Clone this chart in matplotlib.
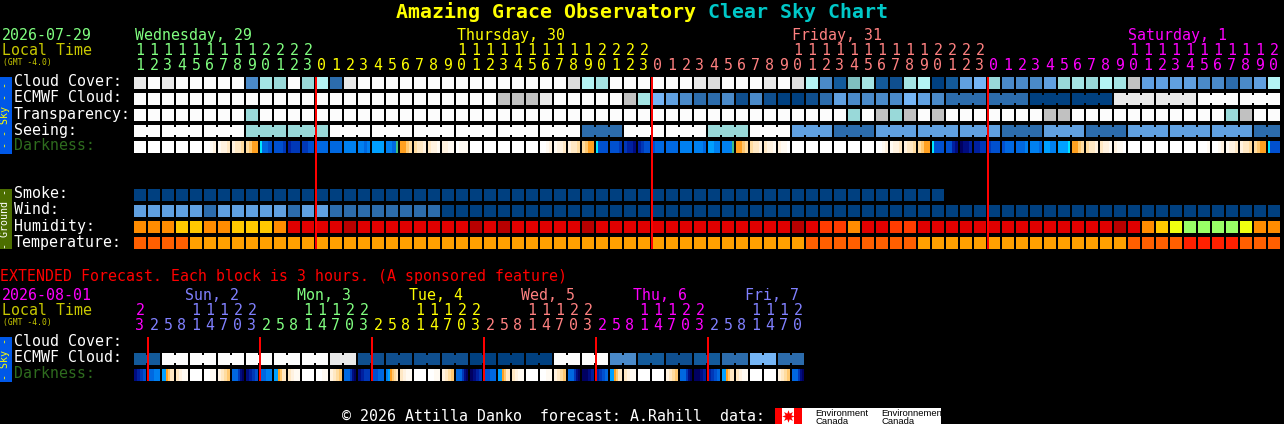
import matplotlib
matplotlib.use("Agg")
import matplotlib.pyplot as plt
from matplotlib.patches import Rectangle

# colour codes used in the cell strings
palette = {
    "W": "#fcfcfc", "E": "#e9e9e9", "D": "#dddddd", "G": "#c1c1c1",
    "s": "#b4f4f4", "r": "#a4e4e4", "q": "#99d9d9", "p": "#7fbfbf",
    "6": "#75b5f5", "5": "#60a0e0", "4": "#4a8ac9", "3": "#2c6cac",
    "2": "#135a9a", "1": "#0f4f8f", "0": "#004080",
    "H": "#ff8c00", "Y": "#ffc800", "R": "#e00000", "B": "#b80000",
    "X": "#ff3c00", "L": "#f0ff10", "N": "#99ff66",
    "T": "#ff5f00", "A": "#ffa000", "Z": "#ff2000",
}
dark_palette = {
    "o": "#ffffff", "a": "#fffaf2", "b": "#fff2e0", "c": "#ffe8c4", "d": "#ffdca0",
    "e": "#ffc870", "f": "#ffa020", "g": "#00e8ff", "h": "#00a0ff", "i": "#0080f0",
    "j": "#0068e0", "k": "#0050d0", "l": "#0038b8", "m": "#0020a0", "n": "#000c80",
    "u": "#000060", "v": "#000040", "t": "#40c080",
}

# main forecast, one code per hour
cloud_cover = ("EWEWWWWW4r" "qWqs3EWWWW" "WWWWWWWWWW" "WDsrWWWWWW" "EDWWWEWDs4"
               "2pr21rs025" "6q4445qrqs" "rG55554434" "5s")
ecmwf_cloud = ("WWWWWWWWWW" "WWWWWWWWWW" "WWWWWWGGGE" "WWWWWGr654" "3341410013"
               "5444465433" "3333000000" "EEEEEEWWWW" "WW")
transparency = ("WWWWWWWWqW" "WWWWWWWWWW" "WWWWWWWWWW" "WWWWWWWWWW" "WWWWWWWWWW"
                "WqWGqGWGWW" "WWWWWGGWWW" "WWWWWWWWqG" "WW")
seeing = ("WWWWWWWWqq" "qqqqWWWWWW" "WWWWWWWWWW" "WW333WWWWW" "WqqqWWW555"
          "3335555555" "5533355533" "3555555555" "33")
smoke = "0" * 58
wind = "55555" + "3" + "55555" + "3" + "55" + "3" * 8 + "0" * 60
humidity = ("HHHYYHHYYY" "HRRRRBRRRR" "RRRRBRBRRR" "RRBRRRRRRR" "RRRRRRRBRX"
            "XHRRXXRRRR" "RRRRRRRRRR" "BRHYLNNNNL" "HH")
temperature = "TTTT" + "A" * 44 + "T" * 8 + "A" * 15 + "TTTT" + "ZZZZ" + "TTT"

darkness = [
    "o", "o", "o", "o", "o", "ooab", "abbc", "bccd", "deff", "gjjjkk",
    "kkkl", "mlll", "llkk", "jjjj", "jjjj", "iiii", "iiji", "hhhh", "iiijjt", "ffed",
    "dccb", "cbba", "bbaa", "oaaa", "o", "o", "o", "o", "o", "ooab",
    "abbc", "bccd", "deff", "gkkkkk", "kkkl", "lmmn", "mlkk", "kjjj", "jjjj", "iiii",
    "iiij", "hhii", "iiiiit", "ffed", "dccb", "cbba", "baao", "o", "o", "o",
    "o", "o", "o", "ooab", "abbc", "bccd", "deff", "gkkkkk", "kkmn", "unnm",
    "mmll", "lkkk", "kjjj", "jjji", "iiij", "hhii", "hhhhhg", "ffed", "dccb", "cbba",
    "baao", "o", "o", "o", "o", "o", "oooa", "ooab", "abbc", "bccd",
    "deff", "gkkkkk",
]

# extended forecast, one code per 3 hour block
ext_ecmwf = ("22" + "W" * 12 + "EE" + "1" * 8 + "0" * 6 + "W" * 4
             + "44" "22" "11" "22" "33" "66" "33")
ext_darkness = [
    "nmlk", "jjii", "hhfecc", "cbaa", "o", "ooaa", "bcde", "jjjlnu",
    "nmlk", "jjii", "hhfecc", "cbaa", "o", "ooaa", "bcde", "jjjlnu",
    "nmll", "kkjj", "ihfedc", "cbaa", "o", "ooaa", "bcde", "jjjlnu",
    "unml", "kkjj", "hhfecc", "cbaa", "o", "ooaa", "bcde", "jjjlnu",
    "uunm", "mlkj", "hhfecc", "cbaa", "o", "o", "bcde", "jjjlnu",
    "uunm", "mlkj", "hhfecc", "cbaa", "o", "o", "bcde", "jjjlnu",
]

# how cells are grouped into joined blocks
seeing_blocks = [2] + [3] * 26 + [2]
ecmwf_blocks = [1] * 58 + [3] * 8
ext_blocks = [2] * 24

hours = (list(range(11, 24)) + list(range(0, 24)) + list(range(0, 24)) + list(range(0, 21)))
ext_hours = [23] + [2, 5, 8, 11, 14, 17, 20, 23] * 5 + [2, 5, 8, 11, 14, 17, 20]

day_labels = ["Wednesday, 29", "Thursday, 30", "Friday, 31", "Saturday, 1"]
day_first_col = [0, 13, 37, 61]
day_label_x = [135, 457, 792, 1128]
day_colors = ["#80ff80", "#ffff00", "#ff8080", "#ff00ff"]

ext_day_labels = ["", "Sun, 2", "Mon, 3", "Tue, 4", "Wed, 5", "Thu, 6", "Fri, 7"]
ext_first_col = [0, 1, 9, 17, 25, 33, 41]
ext_label_x = [0, 185, 297, 409, 521, 633, 745]
ext_colors = ["#ff00ff", "#8080ff", "#80ff80", "#ffff00", "#ff8080", "#ff00ff", "#8080ff"]

midnights = [13, 37, 61]
ext_midnights = [1, 9, 17, 25, 33, 41]

MONO = "DejaVu Sans Mono"
CELL = 12
STEP = 14
X0 = 134

fig = plt.figure(figsize=(12.84, 4.24), dpi=100, facecolor="black")
ax = fig.add_axes([0, 0, 1, 1])
ax.set_xlim(0, 1284)
ax.set_ylim(424, 0)
ax.axis("off")


def rect(x, y, w, h, color, z=2):
    ax.add_patch(Rectangle((x, y), w, h, facecolor=color, edgecolor="none", linewidth=0, snap=False, zorder=z))


def label(x, y, s, color="white", size=10.75, **kw):
    ax.text(x, y, s, color=color, fontsize=size, family=MONO, va="baseline", **kw)


def draw_row(codes, y, blocks=None):
    for i, c in enumerate(codes):
        rect(X0 + STEP * i, y, CELL, CELL, palette[c])
    if blocks is None:
        return
    # small neck between the cells of one block
    col = 0
    for b in blocks:
        for k in range(b - 1):
            rect(X0 + STEP * (col + k) + CELL, y + 2, STEP - CELL, CELL - 4, palette[codes[col + k]])
        col += b


def draw_dark(cells, y):
    for i, bands in enumerate(cells):
        w = CELL / len(bands)
        for k, c in enumerate(bands):
            rect(X0 + STEP * i + k * w, y, w, CELL, dark_palette[c])


def draw_hours(hrs, first_cols, colors, y_tens, y_units):
    for i, h in enumerate(hrs):
        day = [d for d, f in enumerate(first_cols) if f <= i][-1]
        xc = X0 + STEP * i + 6
        if h >= 10:
            label(xc, y_tens, str(h)[0], colors[day], ha="center")
        label(xc, y_units, str(h)[-1], colors[day], ha="center")


# title
label(396, 18, "Amazing Grace Observatory", "#ffff00", 14.35, fontweight="bold")
label(708, 18, "Clear Sky Chart", "#00c8c8", 14.35, fontweight="bold")

# main header
label(2, 40, "2026-07-29", "#80ff80")
label(2, 55, "Local Time", "#c8c800")
label(3, 65, "(GMT -4.0)", "#c8c800", 5.8)
for s, x, c in zip(day_labels, day_label_x, day_colors):
    label(x, 40, s, c)
draw_hours(hours, day_first_col, day_colors, 55, 70)

# side bars
rect(0, 77, 12, 77, "#0058e8")
ax.text(5.5, 115, "- - Sky - -", color="#ffff00", fontsize=7.2, family=MONO, rotation=90, ha="center", va="center")
rect(0, 189, 12, 60, "#4c6e00")
ax.text(5.5, 219, "- Ground -", color="white", fontsize=7.2, family=MONO, rotation=90, ha="center", va="center")
rect(0, 337, 12, 45, "#0058e8")
ax.text(5.5, 359, "- Sky -", color="#ffff00", fontsize=7.2, family=MONO, rotation=90, ha="center", va="center")

# main rows
for s, y, c in [("Cloud Cover:", 77, "white"), ("ECMWF Cloud:", 93, "white"), ("Transparency:", 109, "white"),
                ("Seeing:", 125, "white"), ("Darkness:", 141, "#2e6b1e"), ("Smoke:", 189, "white"),
                ("Wind:", 205, "white"), ("Humidity:", 221, "white"), ("Temperature:", 237, "white")]:
    label(14, y + 9.5, s, c)

draw_row(cloud_cover, 77)
draw_row(ecmwf_cloud, 93, ecmwf_blocks)
draw_row(transparency, 109)
draw_row(seeing, 125, seeing_blocks)
draw_dark(darkness, 141)
draw_row(smoke, 189)
draw_row(wind, 205)
draw_row(humidity, 221)
draw_row(temperature, 237)

for m in midnights:
    rect(X0 + STEP * m - 1, 77, 2, 172, "#ff0000", z=3)

# extended forecast
label(0, 281, "EXTENDED Forecast. Each block is 3 hours. (A sponsored feature)", "#ff0000")
label(2, 300, "2026-08-01", "#ff00ff")
label(2, 315, "Local Time", "#c8c800")
label(3, 325, "(GMT -4.0)", "#c8c800", 5.8)
for s, x, c in zip(ext_day_labels, ext_label_x, ext_colors):
    if s:
        label(x, 300, s, c)
draw_hours(ext_hours, ext_first_col, ext_colors, 315, 330)

label(14, 346, "Cloud Cover:")
label(14, 362, "ECMWF Cloud:")
label(14, 378, "Darkness:", "#2e6b1e")
draw_row(ext_ecmwf, 353, ext_blocks)
draw_dark(ext_darkness, 369)
for m in ext_midnights:
    rect(X0 + STEP * m - 1, 337, 2, 44, "#ff0000", z=3)

# footer and logo
label(342, 421, "© 2026 Attilla Danko  forecast: A.Rahill  data:")
rect(775, 408, 166, 16, "white")
rect(775, 408, 7, 16, "#ff0000")
rect(794, 408, 8, 16, "#ff0000")
ax.plot([788], [416], marker=(8, 1, 0), color="#ff0000", markersize=9, markeredgewidth=0, zorder=3)
for x, s in [(815, "Environment"), (881, "Environnement")]:
    ax.text(x, 415.5, s, color="black", fontsize=6.8, family="Liberation Sans", va="baseline", zorder=3)
    ax.text(x, 423.5, "Canada", color="black", fontsize=6.8, family="Liberation Sans", va="baseline", zorder=3)

fig.savefig("out.png", dpi=100, facecolor="black")
